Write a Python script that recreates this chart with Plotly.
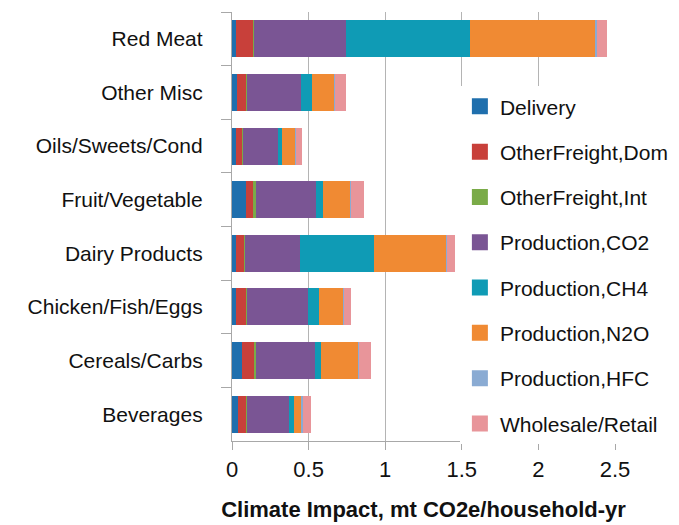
import plotly.graph_objects as go

categories = ["Red Meat", "Other Misc", "Oils/Sweets/Cond", "Fruit/Vegetable",
              "Dairy Products", "Chicken/Fish/Eggs", "Cereals/Carbs", "Beverages"]

delivery      = [0.028, 0.033, 0.026, 0.093, 0.028, 0.028, 0.065, 0.039]
freight_dom   = [0.110, 0.060, 0.043, 0.046, 0.054, 0.065, 0.083, 0.054]
freight_int   = [0.008, 0.005, 0.004, 0.015, 0.005, 0.006, 0.010, 0.005]
prod_co2      = [0.595, 0.354, 0.228, 0.395, 0.358, 0.397, 0.385, 0.272]
prod_ch4      = [0.813, 0.072, 0.028, 0.043, 0.482, 0.072, 0.041, 0.033]
prod_n2o      = [0.821, 0.146, 0.087, 0.180, 0.474, 0.159, 0.241, 0.050]
prod_hfc      = [0.005, 0.004, 0.003, 0.005, 0.004, 0.004, 0.004, 0.010]
wholesale     = [0.065, 0.070, 0.039, 0.085, 0.048, 0.048, 0.076, 0.054]

series_names = ["Delivery", "OtherFreight,Dom", "OtherFreight,Int", "Production,CO2",
                "Production,CH4", "Production,N2O", "Production,HFC", "Wholesale/Retail"]
series_values = [delivery, freight_dom, freight_int, prod_co2,
                 prod_ch4, prod_n2o, prod_hfc, wholesale]
colors = ["#1f6fad", "#c8403a", "#7aab48", "#7a5594",
          "#0f9bb5", "#f08a33", "#8aabd3", "#e8959a"]

x_ticks = [0, 0.5, 1, 1.5, 2, 2.5]
x_ticklabels = ["0", "0.5", "1", "1.5", "2", "2.5"]

FONT = "Liberation Sans, Arial, sans-serif"

fig = go.Figure()
for i, (name, vals, col) in enumerate(zip(series_names, series_values, colors)):
    fig.add_trace(go.Bar(
        y=categories, x=vals, name=name, orientation="h",
        marker=dict(color=col, line=dict(width=0)),
        showlegend=False,
    ))
# legend entries with larger square swatches
for i, (name, col) in enumerate(zip(series_names, colors)):
    fig.add_trace(go.Scatter(
        x=[None], y=[None], mode="markers", name=name,
        marker=dict(symbol="square", size=20, color=col),
        legendgroup=f"g{i}", showlegend=True, hoverinfo="skip",
    ))

fig.update_layout(
    width=671, height=517,
    barmode="stack", bargap=0.31,
    plot_bgcolor="white", paper_bgcolor="white",
    margin=dict(l=224, r=64, t=4, b=84),
    font=dict(family=FONT, color="#111111"),
    showlegend=True,
    legend=dict(
        x=0.595, y=0.827, xanchor="left", yanchor="top",
        bgcolor="white", borderwidth=0,
        font=dict(size=21, family=FONT, color="#111111"),
        traceorder="grouped", tracegroupgap=15, itemsizing="trace",
    ),
    xaxis=dict(
        range=[0, 2.5], tickvals=x_ticks, ticktext=x_ticklabels,
        showgrid=True, gridcolor="#b4b4b4", gridwidth=1.3,
        showline=True, linecolor="#a8a8a8", linewidth=1.3,
        ticks="outside", ticklen=8, tickcolor="#a8a8a8", tickwidth=1.3,
        tickfont=dict(size=22, family=FONT, color="#111111"),
        ticklabelstandoff=0,
        zeroline=False,
        title=dict(text="<b>Climate Impact, mt CO2e/household-yr</b>",
                   font=dict(size=22, family=FONT, color="#111111"), standoff=21),
    ),
    yaxis=dict(
        categoryorder="array", categoryarray=categories, autorange="reversed",
        showline=True, linecolor="#a8a8a8", linewidth=1.3,
        ticks="outside", tickson="boundaries", ticklen=10,
        tickcolor="#a8a8a8", tickwidth=1.3,
        tickfont=dict(size=21, family=FONT, color="#111111"),
        ticklabelstandoff=24,
        showgrid=False, zeroline=False,
    ),
)

fig.write_html("out.html")
